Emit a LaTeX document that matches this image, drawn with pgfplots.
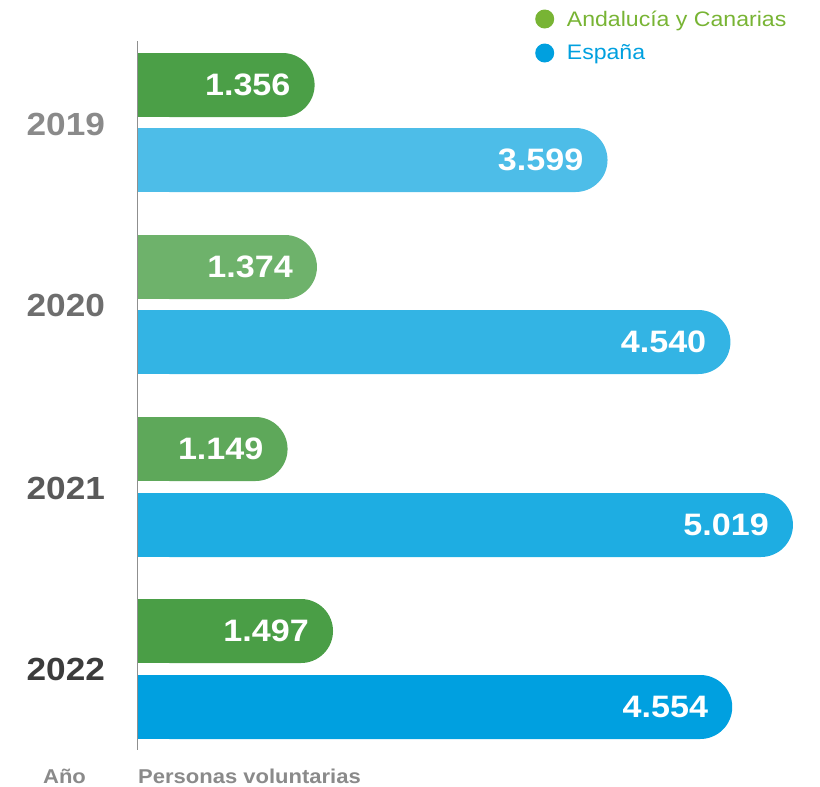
\documentclass[border=0pt]{standalone}
\usepackage{fontspec}
\setmainfont[FakeStretch=1.1]{Liberation Sans}
\usepackage{pgfplots}
\pgfplotsset{compat=1.18}

\definecolor{gA}{HTML}{4B9F47}
\definecolor{gB}{HTML}{6EB26B}
\definecolor{gC}{HTML}{5EA85A}
\definecolor{gD}{HTML}{4A9E46}
\definecolor{bA}{HTML}{4DBDE8}
\definecolor{bB}{HTML}{33B4E4}
\definecolor{bC}{HTML}{1EADE2}
\definecolor{bD}{HTML}{00A0E0}
\definecolor{yA}{HTML}{8A8A8A}
\definecolor{yB}{HTML}{6E6E6E}
\definecolor{yC}{HTML}{595959}
\definecolor{yD}{HTML}{3C3C3C}
\definecolor{legG}{HTML}{78B434}
\definecolor{legB}{HTML}{00A0DF}
\definecolor{axg}{HTML}{8F8F8F}

% #1 colour, #2 bar centre, #3 value, #4 label
\newcommand{\roundbar}[4]{%
  % square left end (covers the rounding at x = 0)
  \addplot[xbar, bar shift=0pt, bar width=64pt, fill=#1, draw=none, forget plot]
    coordinates {(260,#2)};
  % bar with rounded right end and its label
  \addplot[xbar, bar shift=0pt, bar width=64pt, fill=#1, draw=none, rounded corners=32pt,
    nodes near coords, point meta=explicit symbolic,
    every node near coord/.style={anchor=east, xshift=-24pt, inner sep=0pt, text=white,
      font=\bfseries\fontsize{31}{34}\selectfont, rounded corners=0pt}]
    coordinates {(#3,#2) [#4]};
}

\begin{document}
\begin{tikzpicture}
\begin{axis}[
  scale only axis, width=820pt, height=787pt,
  xmin=-1053, xmax=5226,
  ymin=0, ymax=787, y dir=reverse,
  hide axis, clip=false,
]
\path (rel axis cs:0,0) rectangle (rel axis cs:1,1);

\roundbar{gA}{85}{1356}{1.356}
\roundbar{bA}{160}{3599}{3.599}
\roundbar{gB}{267}{1374}{1.374}
\roundbar{bB}{342}{4540}{4.540}
\roundbar{gC}{449}{1149}{1.149}
\roundbar{bC}{525}{5019}{5.019}
\roundbar{gD}{631}{1497}{1.497}
\roundbar{bD}{707}{4554}{4.554}

\draw[axg, line width=1.4pt] (axis cs:0,41) -- (axis cs:0,750);

\node[anchor=east, inner sep=0pt, text=yA, font=\bfseries\fontsize{32}{36}\selectfont] at (axis cs:-248,124) {2019};
\node[anchor=east, inner sep=0pt, text=yB, font=\bfseries\fontsize{32}{36}\selectfont] at (axis cs:-248,305) {2020};
\node[anchor=east, inner sep=0pt, text=yC, font=\bfseries\fontsize{32}{36}\selectfont] at (axis cs:-248,488) {2021};
\node[anchor=east, inner sep=0pt, text=yD, font=\bfseries\fontsize{32}{36}\selectfont] at (axis cs:-248,669) {2022};

\node[anchor=base west, inner sep=0pt, text=yA, font=\bfseries\fontsize{20}{24}\selectfont] at (axis cs:-724,783) {Año};
\node[anchor=base west, inner sep=0pt, text=yA, font=\bfseries\fontsize{20}{24}\selectfont] at (axis cs:4,783) {Personas voluntarias};

\fill[legG] (axis cs:3118,19) circle (9.5pt);
\fill[legB] (axis cs:3118,53) circle (9.5pt);
\node[anchor=west, inner sep=0pt, text=legG, font=\fontsize{21}{25}\selectfont] at (axis cs:3286,20.5) {Andalucía y Canarias};
\node[anchor=west, inner sep=0pt, text=legB, font=\fontsize{21}{25}\selectfont] at (axis cs:3286,54.5) {España};
\end{axis}
\end{tikzpicture}
\end{document}
